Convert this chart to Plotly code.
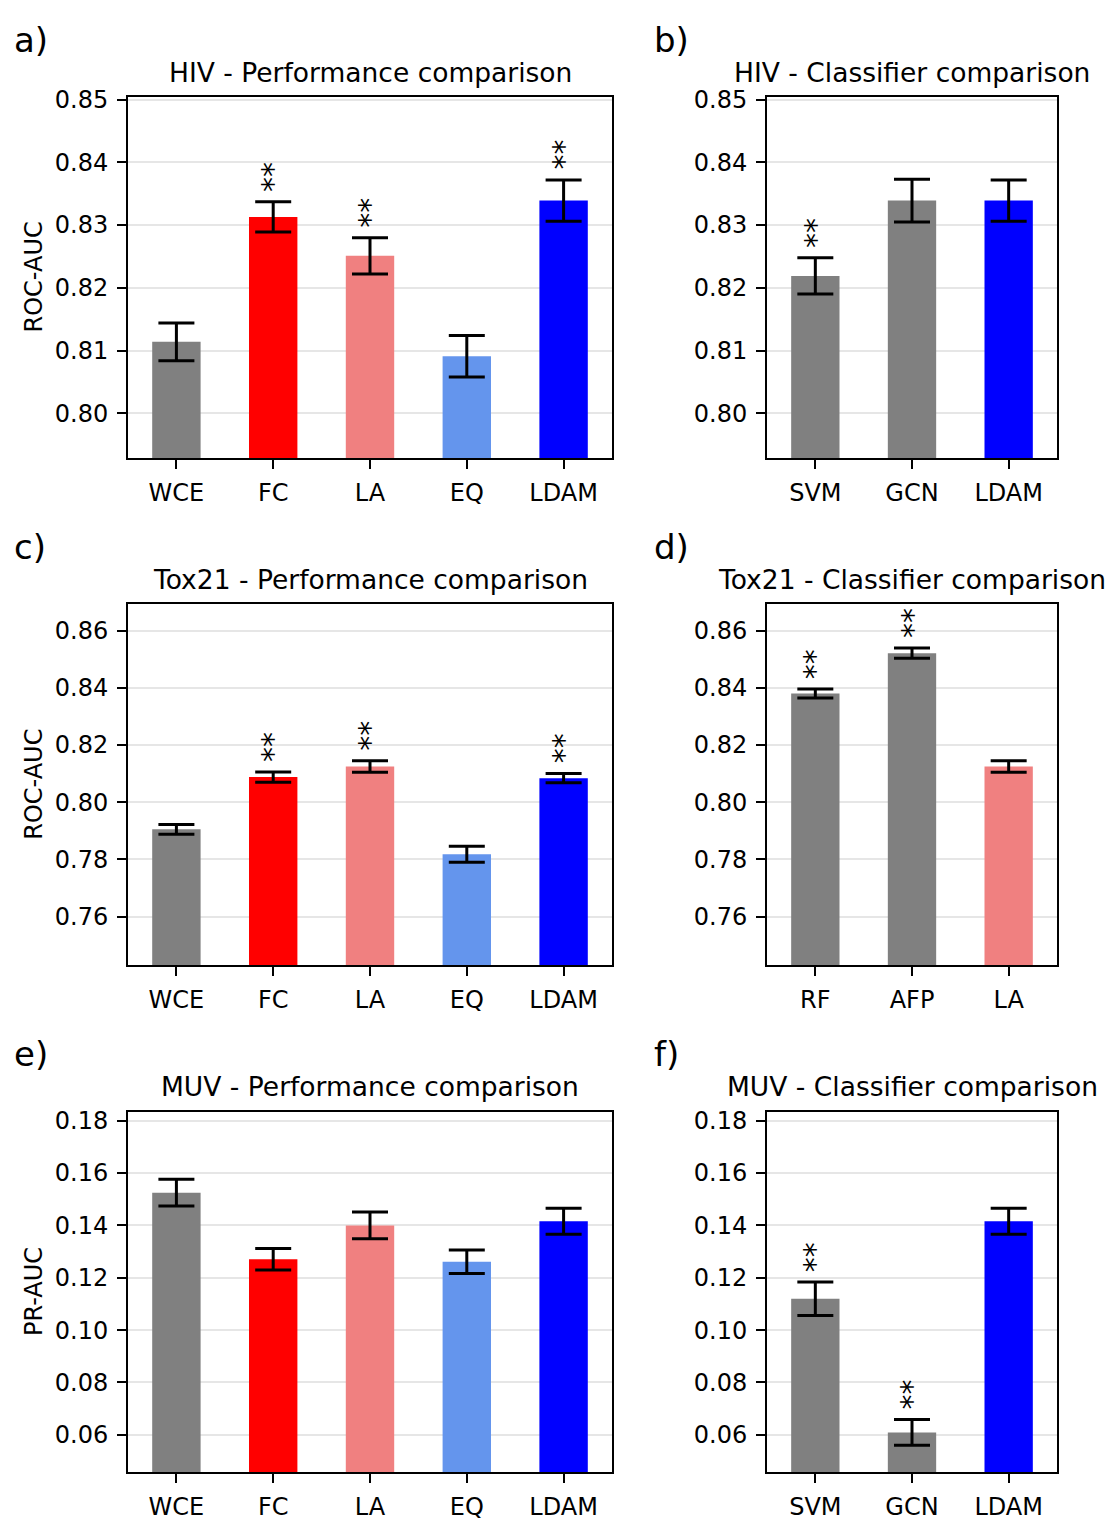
import plotly.graph_objects as go

W, H = 1112, 1521
FONT = "DejaVu Sans"

# ---------------- data ----------------
perf_labels = ["WCE", "FC", "LA", "EQ", "LDAM"]
perf_colors = ["#808080", "#ff0000", "#f08080", "#6495ed", "#0000ff"]

hiv_perf_mean = [0.8114, 0.8313, 0.8251, 0.8091, 0.8339]
hiv_perf_err = [0.0030, 0.0024, 0.0029, 0.0033, 0.0033]
hiv_perf_sig = [False, True, True, False, True]

hiv_clf_labels = ["SVM", "GCN", "LDAM"]
hiv_clf_mean = [0.8219, 0.8339, 0.8339]
hiv_clf_err = [0.0029, 0.0034, 0.0033]
hiv_clf_sig = [True, False, False]
hiv_clf_colors = ["#808080", "#808080", "#0000ff"]

tox_perf_mean = [0.7905, 0.8088, 0.8125, 0.7818, 0.8084]
tox_perf_err = [0.0017, 0.0018, 0.0020, 0.0028, 0.0016]
tox_perf_sig = [False, True, True, False, True]

tox_clf_labels = ["RF", "AFP", "LA"]
tox_clf_mean = [0.8380, 0.8521, 0.8125]
tox_clf_err = [0.0016, 0.0018, 0.0020]
tox_clf_sig = [True, True, False]
tox_clf_colors = ["#808080", "#808080", "#f08080"]

muv_perf_mean = [0.1525, 0.1271, 0.1400, 0.1261, 0.1416]
muv_perf_err = [0.0051, 0.0041, 0.0051, 0.0045, 0.0050]
muv_perf_sig = [False, False, False, False, False]

muv_clf_labels = ["SVM", "GCN", "LDAM"]
muv_clf_mean = [0.1120, 0.0609, 0.1416]
muv_clf_err = [0.0064, 0.0049, 0.0050]
muv_clf_sig = [True, True, False]
muv_clf_colors = ["#808080", "#808080", "#0000ff"]

row_ranges = [(0.7929, 0.8504), (0.7430, 0.8692), (0.0456, 0.1835)]
row_dticks = [0.01, 0.02, 0.02]
row_ylabels = ["ROC-AUC", "ROC-AUC", "PR-AUC"]

panels = [
    dict(letter="a)", title="HIV - Performance comparison", labels=perf_labels,
         mean=hiv_perf_mean, err=hiv_perf_err, sig=hiv_perf_sig, colors=perf_colors, row=0, col=0),
    dict(letter="b)", title="HIV - Classifier comparison", labels=hiv_clf_labels,
         mean=hiv_clf_mean, err=hiv_clf_err, sig=hiv_clf_sig, colors=hiv_clf_colors, row=0, col=1),
    dict(letter="c)", title="Tox21 - Performance comparison", labels=perf_labels,
         mean=tox_perf_mean, err=tox_perf_err, sig=tox_perf_sig, colors=perf_colors, row=1, col=0),
    dict(letter="d)", title="Tox21 - Classifier comparison", labels=tox_clf_labels,
         mean=tox_clf_mean, err=tox_clf_err, sig=tox_clf_sig, colors=tox_clf_colors, row=1, col=1),
    dict(letter="e)", title="MUV - Performance comparison", labels=perf_labels,
         mean=muv_perf_mean, err=muv_perf_err, sig=muv_perf_sig, colors=perf_colors, row=2, col=0),
    dict(letter="f)", title="MUV - Classifier comparison", labels=muv_clf_labels,
         mean=muv_clf_mean, err=muv_clf_err, sig=muv_clf_sig, colors=muv_clf_colors, row=2, col=1),
]

# ---------------- layout geometry (pixels) ----------------
col_px = [(128, 612), (767, 1057)]
row_px = [(87, 452), (600, 965), (1113, 1478)]
letter_x = [12, 652]
letter_y = [29, 542, 1055]
title_y = [62, 575, 1088]
ylabel_x = 34


def px_x(x):
    return x / W


def px_y(y):
    return 1 - y / H


fig = go.Figure()
layout = dict(
    width=W, height=H,
    margin=dict(l=0, r=0, t=0, b=0),
    paper_bgcolor="white", plot_bgcolor="white",
    font=dict(family=FONT, size=24, color="black"),
    showlegend=False,
    annotations=[],
)

for i, p in enumerate(panels, start=1):
    xa = "x" if i == 1 else f"x{i}"
    ya = "y" if i == 1 else f"y{i}"
    xkey = "xaxis" if i == 1 else f"xaxis{i}"
    ykey = "yaxis" if i == 1 else f"yaxis{i}"
    r, c = p["row"], p["col"]
    x0, x1 = col_px[c]
    y0, y1 = row_px[r]
    n = len(p["labels"])

    fig.add_trace(go.Bar(
        x=p["labels"], y=p["mean"], width=0.5,
        marker=dict(color=p["colors"], line=dict(width=0)),
        error_y=dict(type="data", array=p["err"], visible=True,
                     color="black", thickness=3, width=18),
        xaxis=xa, yaxis=ya, hoverinfo="skip",
    ))

    layout[xkey] = dict(
        domain=[px_x(x0), px_x(x1)], anchor=ya,
        type="category", range=[-0.5, n - 0.5],
        showline=True, mirror=True, linecolor="black", linewidth=2,
        ticks="outside", ticklen=9, tickwidth=2, tickcolor="black",
        ticklabelstandoff=3,
        showgrid=False, tickfont=dict(size=24, family=FONT),
        fixedrange=True,
    )
    layout[ykey] = dict(
        domain=[px_y(y1), px_y(y0)], anchor=xa,
        range=list(row_ranges[r]), dtick=row_dticks[r], tick0=0,
        tickformat=".2f",
        showline=True, mirror=True, linecolor="black", linewidth=2,
        ticks="outside", ticklen=9, tickwidth=2, tickcolor="black",
        ticklabelstandoff=4,
        showgrid=True, gridcolor="#e6e6e6", gridwidth=2,
        zeroline=False, tickfont=dict(size=24, family=FONT),
        fixedrange=True,
    )

    # panel letter
    layout["annotations"].append(dict(
        x=px_x(letter_x[c]), y=px_y(letter_y[r]), xref="paper", yref="paper",
        xanchor="left", yanchor="middle", text=p["letter"], showarrow=False,
        font=dict(size=34, family=FONT, color="black"),
    ))
    # title
    layout["annotations"].append(dict(
        x=px_x((x0 + x1) / 2), y=px_y(title_y[r]), xref="paper", yref="paper",
        xanchor="center", yanchor="middle", text=p["title"], showarrow=False,
        font=dict(size=26.5, family=FONT, color="black"),
    ))
    # y label
    if c == 0:
        layout["annotations"].append(dict(
            x=px_x(ylabel_x), y=px_y((y0 + y1) / 2), xref="paper", yref="paper",
            xanchor="center", yanchor="middle", text=row_ylabels[r], textangle=-90,
            showarrow=False, font=dict(size=24, family=FONT, color="black"),
        ))
    # significance stars
    for lab, m, e, s in zip(p["labels"], p["mean"], p["err"], p["sig"]):
        if s:
            layout["annotations"].append(dict(
                x=lab, y=m + e, xref=xa, yref=ya,
                xanchor="center", yanchor="middle", yshift=25,
                text="**", textangle=-90, showarrow=False,
                font=dict(size=30, family=FONT, color="black"),
            ))

fig.update_layout(**layout)
fig.write_html(
    "out.html",
    config={"displayModeBar": False},
    post_script=(
        "var d=document.getElementById('{plot_id}');"
        "d.style.position='absolute';d.style.top='0px';d.style.left='0px';"
        "document.body.style.margin='0';document.body.style.padding='0';"
        "document.body.style.overflow='hidden';"
        "document.documentElement.style.overflow='hidden';"
    ),
)
